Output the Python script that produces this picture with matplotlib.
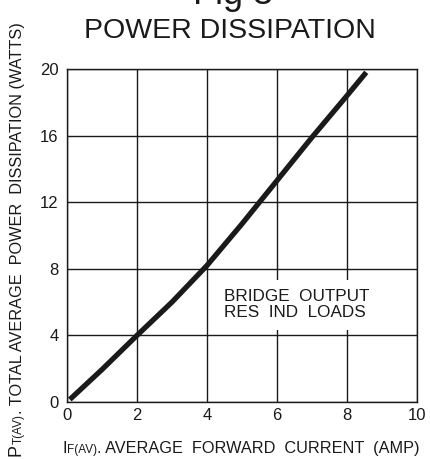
import matplotlib
matplotlib.use('Agg')
import matplotlib.pyplot as plt
from matplotlib.patches import Rectangle

# curve
corriente = [0.08, 1.0, 2.0, 3.0, 4.0, 5.0, 6.0, 7.0, 8.0, 8.55]
potencia = [0.15, 1.95, 4.0, 6.0, 8.2, 10.7, 13.3, 15.9, 18.4, 19.8]

xticks = [0, 2, 4, 6, 8, 10]
yticks = [0, 4, 8, 12, 16, 20]

plt.rcParams['font.family'] = ['Liberation Sans', 'DejaVu Sans']
tinta = '#1a1a1a'


def main():
    fig = plt.figure(figsize=(4.30, 4.59), dpi=100)
    ax = fig.add_axes([67 / 430, 57 / 459, 350 / 430, 333 / 459])

    ax.set_xlim(0, 10)
    ax.set_ylim(0, 20)
    ax.set_xticks(xticks)
    ax.set_yticks(yticks)
    ax.tick_params(length=0, labelsize=12, colors=tinta)
    ax.tick_params(axis='y', pad=6)
    ax.tick_params(axis='x', pad=4)
    ax.grid(True, color=tinta, linewidth=1.0)
    ax.set_axisbelow(True)
    for s in ax.spines.values():
        s.set_color(tinta)
        s.set_linewidth(1.0)

    # white box behind the note
    ax.add_patch(Rectangle((4.45, 4.3), 5.2, 3.05, facecolor='white',
                           edgecolor='none', zorder=1.5))
    ax.text(4.5, 5.85, 'BRIDGE  OUTPUT\nRES  IND  LOADS', fontsize=12.3,
            color=tinta, ha='left', va='center', linespacing=1.05, zorder=3)

    ax.plot(corriente, potencia, color=tinta, linewidth=3.8,
            solid_capstyle='butt', zorder=4)

    # titulo
    fig.text(233 / 430, 1 - 4 / 459, 'Fig 3', fontsize=26, ha='center',
             va='baseline', color=tinta)
    fig.text(230 / 430, 1 - 38 / 459, 'POWER DISSIPATION', fontsize=20.5,
             ha='center', va='baseline', color=tinta)

    # eixo x: I com F(AV) menor
    t1 = fig.text(62 / 430, 1 - 453 / 459, 'I', fontsize=11.7, ha='left',
                  va='baseline', color=tinta)
    t2 = ax.annotate('F(AV)', xy=(1, 0), xycoords=t1, ha='left', va='bottom',
                     fontsize=8.5, color=tinta, annotation_clip=False)
    ax.annotate('. AVERAGE  FORWARD  CURRENT  (AMP)', xy=(1, 0), xycoords=t2,
                ha='left', va='bottom', fontsize=11.7, color=tinta,
                annotation_clip=False)

    # eixo y: P com T(AV) menor
    p1 = fig.text(25 / 430, 1 - 456 / 459, 'P', fontsize=13, rotation=90,
                  ha='right', va='bottom', color=tinta)
    p2 = ax.annotate('T(AV)', xy=(1, 1), xycoords=p1, ha='right', va='bottom',
                     rotation=90, fontsize=8.5, color=tinta,
                     annotation_clip=False)
    ax.annotate('. TOTAL AVERAGE  POWER  DISSIPATION (WATTS)', xy=(1, 1),
                xycoords=p2, ha='right', va='bottom', rotation=90,
                fontsize=11.7, color=tinta, annotation_clip=False)

    fig.savefig('out.png', dpi=100)


if __name__ == "__main__":
    main()
